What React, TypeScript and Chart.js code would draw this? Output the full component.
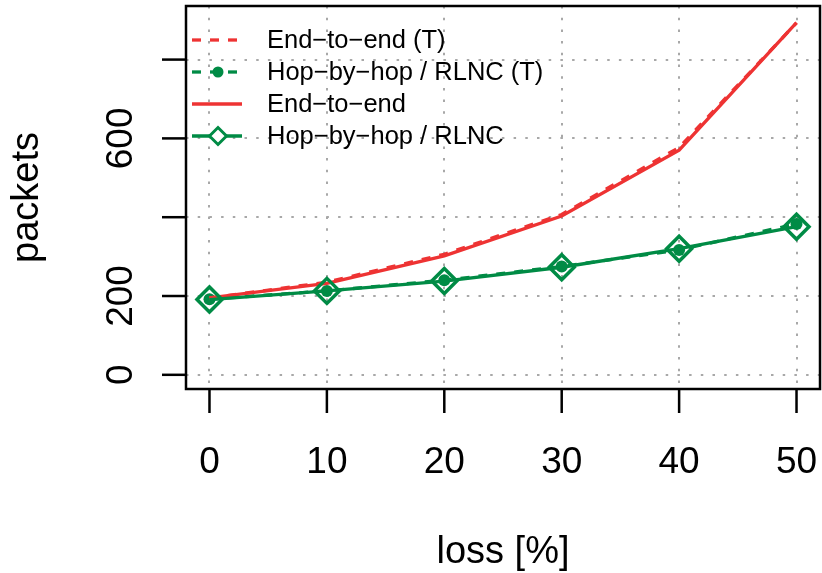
import React, { useEffect, useRef } from "react";
import { Chart, registerables } from "chart.js";

Chart.register(...registerables);

// ---- data ----
const lossPct = [0, 10, 20, 30, 40, 50];
const e2eTheory = [195, 235, 306, 407, 577, 893];
const hbhTheory = [192, 213, 240, 275, 317, 383];
const e2eSim = [195, 232, 302, 403, 570, 894];
const hbhSim = [191, 213, 238, 273, 320, 376];
const seriesLabels = [
  "End\u2212to\u2212end (T)",
  "Hop\u2212by\u2212hop / RLNC (T)",
  "End\u2212to\u2212end",
  "Hop\u2212by\u2212hop / RLNC",
];
const xTicks = [0, 10, 20, 30, 40, 50];
const xTickLabels = ["0", "10", "20", "30", "40", "50"];
const yTicks = [0, 200, 400, 600, 800];
const yTickLabels = ["0", "200", "", "600", ""];
const xTitle = "loss [%]";
const yTitle = "packets";

const RED = "#EE3333";
const GREEN = "#008B45";
const FONT = '"Liberation Sans", Arial, Helvetica, sans-serif';

const toPts = (ys: number[]) => lossPct.map((x, i) => ({ x, y: ys[i] }));

const rPlot = {
  id: "rPlot",
  beforeDatasetsDraw(chart: any) {
    const { ctx, chartArea: a, scales } = chart;
    const xs = scales.x;
    const ys = scales.y;
    ctx.save();
    ctx.strokeStyle = "#A8A8A8";
    ctx.lineWidth = 2;
    ctx.setLineDash([2.5, 9.2]);
    for (const t of xTicks) {
      const px = Math.round(xs.getPixelForValue(t));
      ctx.beginPath();
      ctx.moveTo(px, a.top);
      ctx.lineTo(px, a.bottom);
      ctx.stroke();
    }
    for (const t of yTicks) {
      const py = Math.round(ys.getPixelForValue(t));
      ctx.beginPath();
      ctx.moveTo(a.left, py);
      ctx.lineTo(a.right, py);
      ctx.stroke();
    }
    ctx.restore();
  },
  afterDatasetsDraw(chart: any) {
    const { ctx, chartArea: a, scales } = chart;
    const xs = scales.x;
    const ys = scales.y;
    ctx.save();
    // box
    ctx.strokeStyle = "#000";
    ctx.lineWidth = 2.5;
    ctx.setLineDash([]);
    ctx.strokeRect(a.left, a.top, a.right - a.left, a.bottom - a.top);
    // ticks
    ctx.fillStyle = "#000";
    ctx.font = `37px ${FONT}`;
    xTicks.forEach((t, i) => {
      const px = xs.getPixelForValue(t);
      ctx.beginPath();
      ctx.moveTo(px, a.bottom);
      ctx.lineTo(px, a.bottom + 24);
      ctx.stroke();
      ctx.textAlign = "center";
      ctx.textBaseline = "alphabetic";
      ctx.fillText(xTickLabels[i], px, 473);
    });
    yTicks.forEach((t, i) => {
      const py = ys.getPixelForValue(t);
      ctx.beginPath();
      ctx.moveTo(a.left, py);
      ctx.lineTo(a.left - 24, py);
      ctx.stroke();
      if (yTickLabels[i]) {
        ctx.save();
        ctx.translate(132, py);
        ctx.rotate(-Math.PI / 2);
        ctx.textAlign = "center";
        ctx.textBaseline = "alphabetic";
        ctx.fillText(yTickLabels[i], 0, 0);
        ctx.restore();
      }
    });
    // titles
    ctx.textAlign = "center";
    ctx.textBaseline = "alphabetic";
    ctx.font = `38px ${FONT}`;
    ctx.fillText(xTitle, (a.left + a.right) / 2, 563);
    ctx.save();
    ctx.translate(38, (a.top + a.bottom) / 2);
    ctx.rotate(-Math.PI / 2);
    ctx.fillText(yTitle, 0, 0);
    ctx.restore();

    // legend
    const rowsY = [40, 72, 104, 136];
    const x0 = 192;
    const x1 = 242;
    const xm = 218;
    chart.data.datasets.forEach((ds: any, i: number) => {
      const y = rowsY[i];
      ctx.strokeStyle = ds.borderColor;
      ctx.lineWidth = ds.borderWidth;
      ctx.setLineDash(ds.borderDash || []);
      ctx.beginPath();
      ctx.moveTo(x0, y);
      ctx.lineTo(x1, y);
      ctx.stroke();
      ctx.setLineDash([]);
      if (ds.pointRadius > 0) {
        if (ds.pointStyle === "circle") {
          ctx.fillStyle = ds.pointBackgroundColor;
          ctx.beginPath();
          ctx.arc(xm, y, 5.5, 0, Math.PI * 2);
          ctx.fill();
        } else if (ds.pointStyle === "rectRot") {
          const r = 8.5;
          ctx.fillStyle = "#fff";
          ctx.strokeStyle = ds.pointBorderColor;
          ctx.lineWidth = 3;
          ctx.beginPath();
          ctx.moveTo(xm - r, y);
          ctx.lineTo(xm, y - r);
          ctx.lineTo(xm + r, y);
          ctx.lineTo(xm, y + r);
          ctx.closePath();
          ctx.fill();
          ctx.stroke();
        }
      }
      ctx.fillStyle = "#000";
      ctx.font = `25.5px ${FONT}`;
      ctx.textAlign = "left";
      ctx.textBaseline = "middle";
      ctx.fillText(seriesLabels[i], 267, y + 1);
    });
    ctx.restore();
  },
};

export default function App() {
  const ref = useRef<HTMLCanvasElement | null>(null);
  useEffect(() => {
    if (!ref.current) return;
    const chart = new Chart(ref.current, {
      type: "line",
      data: {
        datasets: [
          {
            label: seriesLabels[0],
            data: toPts(e2eTheory),
            borderColor: RED,
            borderWidth: 3.3,
            borderDash: [9, 9],
            pointRadius: 0,
            fill: false,
            order: 1,
          },
          {
            label: seriesLabels[1],
            data: toPts(hbhTheory),
            borderColor: GREEN,
            borderWidth: 3.3,
            borderDash: [9, 9],
            pointStyle: "circle",
            pointRadius: 6,
            pointBackgroundColor: GREEN,
            pointBorderColor: GREEN,
            pointBorderWidth: 0,
            fill: false,
            order: 3,
          },
          {
            label: seriesLabels[2],
            data: toPts(e2eSim),
            borderColor: RED,
            borderWidth: 3.3,
            pointRadius: 0,
            fill: false,
            order: 2,
          },
          {
            label: seriesLabels[3],
            data: toPts(hbhSim),
            borderColor: GREEN,
            borderWidth: 3.3,
            pointStyle: "rectRot",
            pointRadius: 12.5,
            pointBackgroundColor: "rgba(0,0,0,0)",
            pointBorderColor: GREEN,
            pointBorderWidth: 3.5,
            fill: false,
            order: 0,
          },
        ],
      },
      options: {
        responsive: false,
        animation: false,
        devicePixelRatio: 1,
        layout: { autoPadding: false, padding: { left: 186, top: 6, right: 2, bottom: 184 } },
        scales: {
          x: { type: "linear", min: -2, max: 52, display: false },
          y: { type: "linear", min: -36, max: 936, display: false },
        },
        plugins: {
          legend: { display: false },
          tooltip: { enabled: false },
        },
      },
      plugins: [rPlot],
    } as any);
    return () => chart.destroy();
  }, []);
  return (
    <div style={{ position: "absolute", left: 0, top: 0, width: 822, height: 573, background: "#fff" }}>
      <canvas ref={ref} width={822} height={573} style={{ display: "block" }} />
    </div>
  );
}
